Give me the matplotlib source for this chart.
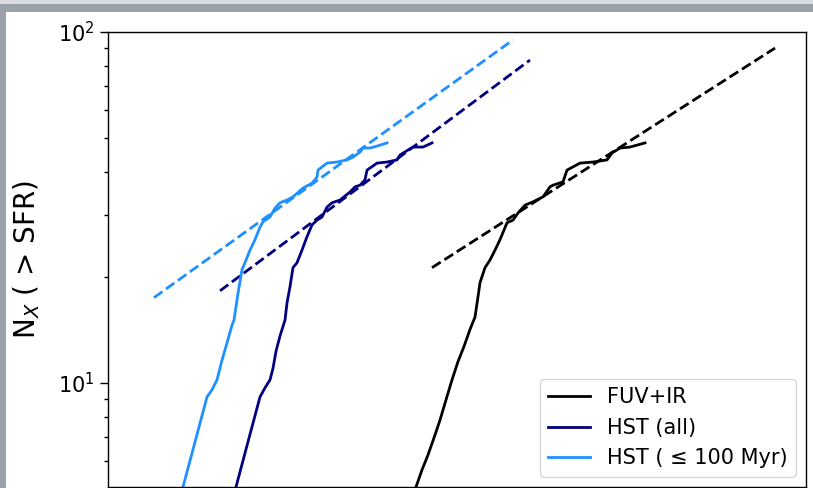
import numpy as np
import matplotlib
matplotlib.use('Agg')
import matplotlib.pyplot as plt
from matplotlib.patches import Rectangle

# ── Cumulative counts N_X(>SFR) per tracer ─────────────────
fuv_x = [23.52, 25.49, 27.63, 30.38, 32.49, 35.23, 38.19, 41.40, 44.87, 48.65,
         52.04, 54.19, 55.67, 59.55, 63.70, 68.14, 72.88, 80.09, 86.82, 92.87,
         102.0, 113.6, 130.0, 142.9, 148.8, 170.2, 179.6, 214.0, 254.9, 307.8,
         329.2, 366.7, 419.6, 513.4]
fuv_n = [5.05, 5.65, 6.23, 7.11, 7.84, 8.95, 10.2, 11.5, 12.7, 14.2,
         15.4, 17.6, 19.3, 21.3, 22.4, 23.9, 25.6, 28.6, 29.1, 30.5,
         32.1, 32.8, 33.9, 36.2, 36.6, 37.4, 40.4, 42.3, 42.6, 43.2,
         45.2, 46.7, 47.0, 48.3]

hst_x = [2.083, 2.448, 2.878, 3.078, 3.293, 3.428, 3.569, 3.767, 3.976, 4.030,
         4.140, 4.310, 4.487, 4.737, 5.066, 5.419, 5.798, 6.201, 6.632, 7.095,
         7.588, 8.451, 9.670, 10.34, 11.07, 11.83, 12.16, 13.91, 15.91, 18.20,
         18.96, 21.12, 22.59, 25.84, 29.17]
hst_n = [5.05, 6.79, 9.12, 9.68, 10.2, 11.0, 12.3, 13.6, 14.8, 15.1,
         16.9, 18.8, 21.3, 22.0, 23.9, 26.1, 28.2, 29.1, 29.7, 31.7,
         32.6, 33.2, 35.0, 36.2, 36.6, 37.9, 40.4, 42.3, 42.6, 43.2,
         44.6, 46.1, 47.0, 47.0, 48.3]

young_x = [1.02, 1.20, 1.41, 1.508, 1.613, 1.725, 1.870, 1.974, 2.028, 2.140,
           2.258, 2.351, 2.515, 2.691, 2.878, 2.997, 3.293, 3.523, 3.767, 4.140,
           4.487, 5.134, 5.798, 6.201, 6.285, 7.095, 8.117, 9.287, 10.07, 11.07,
           11.52, 12.66, 13.91, 15.91]
young_n = [5.05, 6.79, 9.12, 9.55, 10.2, 11.6, 13.3, 14.6, 15.1, 18.0,
           21.0, 22.0, 23.9, 25.6, 27.8, 28.8, 29.7, 31.5, 32.6, 33.2,
           33.9, 35.9, 37.1, 38.6, 40.4, 42.3, 42.6, 43.2, 44.0, 45.5,
           46.7, 46.7, 47.3, 48.3]

# power-law fits, given by their end points
fuv_fit_x, fuv_fit_n = [29.17, 2957.0], [21.3, 90.0]
hst_fit_x, hst_fit_n = [1.680, 109.1], [18.3, 83.2]
young_fit_x, young_fit_n = [0.6905, 86.8], [17.5, 94.9]

labels = ['FUV+IR', 'HST (all)', 'HST ( ≤ 100 Myr)']
colors = ['black', 'navy', 'dodgerblue']

fig = plt.figure(figsize=(8.13, 4.88), dpi=100)
fig.patch.set_facecolor('white')

# grey frame around the panel
fig.add_artist(Rectangle((0, 1 - 4 / 488), 1, 4 / 488, transform=fig.transFigure,
                         facecolor='#d9dcdf', edgecolor='none', zorder=0))
fig.add_artist(Rectangle((0, 1 - 12 / 488), 1, 8 / 488, transform=fig.transFigure,
                         facecolor='#9ba1a9', edgecolor='none', zorder=0))
fig.add_artist(Rectangle((0, 0), 6 / 813, 1 - 4 / 488, transform=fig.transFigure,
                         facecolor='#9ba1a9', edgecolor='none', zorder=0))

ax = fig.add_axes([108 / 813, 1 / 488, 698 / 813, 455 / 488])

series = [(fuv_x, fuv_n, fuv_fit_x, fuv_fit_n),
          (hst_x, hst_n, hst_fit_x, hst_fit_n),
          (young_x, young_n, young_fit_x, young_fit_n)]
for (x, n, fx, fn), c, lab in zip(series, colors, labels):
    ax.plot(x, n, color=c, lw=2, label=lab)
    ax.plot(fx, fn, color=c, lw=2, ls='--')

ax.set_xscale('log')
ax.set_yscale('log')
ax.set_xlim(0.3717, 4487)
ax.set_ylim(5.05, 100)

ax.tick_params(which='major', length=6, width=1, labelsize=15)
ax.tick_params(which='minor', length=3, width=1)
ax.tick_params(axis='x', labelbottom=False)
for sp in ax.spines.values():
    sp.set_linewidth(1.0)

ax.set_ylabel(r'N$_X$ ( > SFR)', fontsize=20)
ax.yaxis.set_label_coords(-0.094, 0.5)

ax.legend(loc='lower right', fontsize=15)

plt.savefig('out.png', dpi=100)
